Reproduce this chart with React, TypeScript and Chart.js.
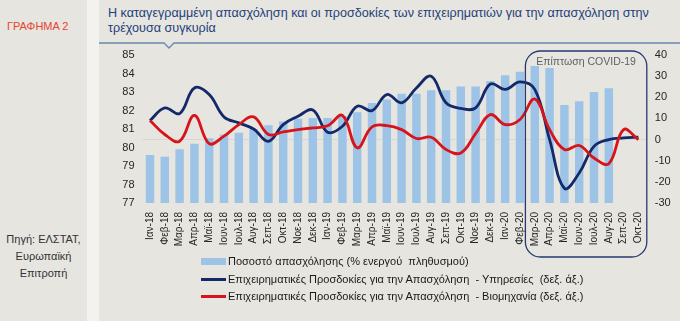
import React, { useEffect, useRef } from "react";
import { Chart, registerables } from "chart.js";

Chart.register(...registerables);

const months = [
  "Ιαν-18", "Φεβ-18", "Μαρ-18", "Απρ-18", "Μαϊ-18", "Ιουν-18", "Ιουλ-18", "Αυγ-18", "Σεπ-18", "Οκτ-18", "Νοε-18", "Δεκ-18",
  "Ιαν-19", "Φεβ-19", "Μαρ-19", "Απρ-19", "Μαϊ-19", "Ιουν-19", "Ιουλ-19", "Αυγ-19", "Σεπ-19", "Οκτ-19", "Νοε-19", "Δεκ-19",
  "Ιαν-20", "Φεβ-20", "Μαρ-20", "Απρ-20", "Μαϊ-20", "Ιουν-20", "Ιουλ-20", "Αυγ-20", "Σεπ-20", "Οκτ-20",
];

// Ποσοστό απασχόλησης (% ενεργού πληθυσμού) – left axis
const employment = [
  79.6, 79.5, 79.9, 80.2, 80.5, 80.7, 80.8, 81.0, 81.2, 81.4, 81.55, 81.6,
  81.6, 81.7, 81.9, 82.4, 82.6, 82.9, 82.9, 83.1, 83.1, 83.3, 83.3, 83.6,
  83.9, 84.1, 84.4, 84.3, 82.3, 82.5, 83.0, 83.2, null, null,
];

// Επιχειρηματικές Προσδοκίες – Υπηρεσίες (right axis)
const services = [
  9, 15, 12.3, 24.4, 21.3, 10.7, 7.9, 5.0, -0.8, 7.1, 11, 14,
  3.5, 6.3, 15.8, 13.7, 21.3, 17.4, 24.4, 30, 17.4, 14.7, 15.0, 26.3,
  23.7, 27.3, 23.7, 0, -23, -15.8, -3.2, 0, 0.8, 1.1,
];

// Επιχειρηματικές Προσδοκίες – Βιομηχανία (right axis)
const industry = [
  9, 2.4, -0.8, 11.4, -1.9, 1.6, 7.1, 10.7, 2.4, 3.6, 4.7, 5.5,
  6.5, 11.4, -3.9, 6.0, 6.6, 4.7, 0.5, 1.1, -4.7, -6.3, 2.8, 11.8,
  7.1, 9.5, 19.2, 4.7, -4.7, -2.8, -8.7, -11.4, 4.7, 0,
];

const leftMin = 77;
const leftMax = 85;
const leftStep = 1;
const rightMin = -30;
const rightMax = 40;
const rightStep = 10;

const covidStartIndex = 26;
const covidLabel = "Επίπτωση COVID-19";

const titleText =
  "Η καταγεγραμμένη απασχόληση και οι προσδοκίες των επιχειρηματιών για την απασχόληση στην τρέχουσα συγκυρία";
const legendItems = [
  "Ποσοστό απασχόλησης (% ενεργού  πληθυσμού)",
  "Επιχειρηματικές Προσδοκίες για την Απασχόληση  - Υπηρεσίες  (δεξ. άξ.)",
  "Επιχειρηματικές Προσδοκίες για την Απασχόληση  - Βιομηχανία (δεξ. άξ.)",
];

const FONT = "'Liberation Sans', Arial, sans-serif";
const BG = "#e6e5e0";
const BAR = "#9dc3e6";
const NAVY = "#14296a";
const RED = "#d7141a";

const covidBox = {
  id: "covidBox",
  afterDatasetsDraw(chart: any) {
    const { ctx, chartArea } = chart;
    const x = chart.scales.x;
    const left = (x.getPixelForValue(covidStartIndex - 1) + x.getPixelForValue(covidStartIndex)) / 2 - 2;
    const right = chartArea.right + 1;
    const top = chartArea.top - 4;
    const bottom = 257;
    ctx.save();
    ctx.beginPath();
    ctx.roundRect(left, top, right - left, bottom - top, 15);
    ctx.strokeStyle = "#263a72";
    ctx.lineWidth = 1.3;
    ctx.stroke();
    ctx.fillStyle = "#5f5f5f";
    ctx.font = `10.5px ${FONT}`;
    ctx.textAlign = "center";
    ctx.textBaseline = "middle";
    ctx.fillText(covidLabel, (left + right) / 2, top + 11);
    ctx.restore();
  },
};

export default function App() {
  const ref = useRef<HTMLCanvasElement>(null);

  useEffect(() => {
    document.body.style.margin = "0";
    const canvas = ref.current!;
    const chart = new Chart(canvas, {
      type: "bar",
      data: {
        labels: months,
        datasets: [
          {
            type: "line",
            label: legendItems[2],
            data: industry,
            yAxisID: "y1",
            borderColor: RED,
            borderWidth: 2.8,
            pointRadius: 0,
            tension: 0.4,
            order: 1,
          } as any,
          {
            type: "line",
            label: legendItems[1],
            data: services,
            yAxisID: "y1",
            borderColor: NAVY,
            borderWidth: 2.8,
            pointRadius: 0,
            tension: 0.4,
            order: 2,
          } as any,
          {
            type: "bar",
            label: legendItems[0],
            data: employment,
            yAxisID: "y",
            backgroundColor: BAR,
            categoryPercentage: 1,
            barPercentage: 0.57,
            order: 3,
          } as any,
        ],
      },
      options: {
        responsive: false,
        animation: false,
        layout: { padding: { top: 55, left: 0, right: 0, bottom: 0 } },
        plugins: { legend: { display: false }, tooltip: { enabled: false } },
        scales: {
          x: {
            grid: { display: false, drawTicks: false },
            border: { display: false },
            ticks: {
              autoSkip: false,
              minRotation: 90,
              maxRotation: 90,
              padding: 9,
              color: "#262626",
              font: { family: FONT, size: 10 },
            },
            afterFit: (s: any) => {
              s.height = 118;
            },
          },
          y: {
            position: "left",
            min: leftMin,
            max: leftMax,
            grid: { display: false, drawTicks: false },
            border: { display: false },
            ticks: { stepSize: leftStep, padding: 8, color: "#262626", font: { family: FONT, size: 11 } },
            afterFit: (s: any) => {
              s.width = 142.6;
            },
          },
          y1: {
            position: "right",
            min: rightMin,
            max: rightMax,
            grid: {
              drawTicks: false,
              color: (c: any) => (c.tick && c.tick.value === 0 ? "#d6d6d6" : "rgba(0,0,0,0)"),
            },
            border: { display: false },
            ticks: { stepSize: rightStep, padding: 9, color: "#262626", font: { family: FONT, size: 11 } },
            afterFit: (s: any) => {
              s.width = 34.2;
            },
          },
        },
      },
      plugins: [covidBox],
    });
    return () => chart.destroy();
  }, []);

  const legendRow = (i: number, top: number, swatch: React.ReactNode) => (
    <div
      key={i}
      style={{
        position: "absolute",
        left: 201,
        top: top - 8,
        height: 16,
        display: "flex",
        alignItems: "center",
        whiteSpace: "pre",
        fontFamily: FONT,
        fontSize: 11,
        color: "#1a1a1a",
      }}
    >
      <div style={{ width: 25, display: "flex", alignItems: "center", marginRight: 2 }}>{swatch}</div>
      <span>{legendItems[i]}</span>
    </div>
  );

  return (
    <div style={{ position: "absolute", left: 0, top: 0, width: 680, height: 321, background: "#f3f2ef", overflow: "hidden" }}>
      {/* left side panel */}
      <div style={{ position: "absolute", left: 0, top: 0, width: 87, height: 321, background: BG }} />
      <div
        style={{
          position: "absolute",
          left: 7,
          top: 20,
          fontFamily: FONT,
          fontSize: 11,
          color: "#e8432e",
          whiteSpace: "nowrap",
        }}
      >
        ΓΡΑΦΗΜΑ 2
      </div>
      <div
        style={{
          position: "absolute",
          left: 0,
          top: 231,
          width: 87,
          textAlign: "center",
          fontFamily: FONT,
          fontSize: 11,
          lineHeight: "17px",
          color: "#333",
        }}
      >
        Πηγή: ΕΛΣΤΑΤ,
        <br />
        Ευρωπαϊκή
        <br />
        Επιτροπή
      </div>
      {/* main panel */}
      <div style={{ position: "absolute", left: 99, top: 0, width: 581, height: 321, background: BG }} />
      <div
        style={{
          position: "absolute",
          left: 108,
          top: 6,
          width: 560,
          fontFamily: FONT,
          fontSize: 12.6,
          lineHeight: "15px",
          color: "#1f3f7a",
        }}
      >
        {titleText}
      </div>
      <svg style={{ position: "absolute", left: 0, top: 0 }} width={680} height={60}>
        <polyline points="99,43 164,43 169,48 174,43 680,43" fill="none" stroke="#6a88b0" strokeWidth={1.3} />
      </svg>
      <canvas ref={ref} width={680} height={321} style={{ position: "absolute", left: 0, top: 0 }} />
      {legendRow(0, 261, <div style={{ width: 25, height: 7, background: BAR }} />)}
      {legendRow(1, 279, <div style={{ width: 25, height: 3, background: NAVY }} />)}
      {legendRow(2, 296, <div style={{ width: 25, height: 3, background: RED }} />)}
    </div>
  );
}
